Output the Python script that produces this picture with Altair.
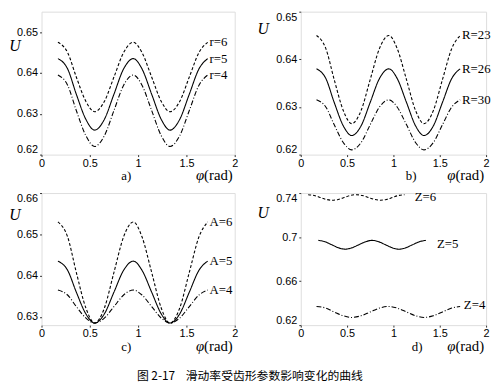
import altair as alt
import pandas as pd

# ---------------- data ----------------
phi_std = [0.17, 0.27, 0.36, 0.46, 0.55, 0.65, 0.75, 0.85, 0.95,
           1.04, 1.14, 1.24, 1.33, 1.43, 1.53, 1.63, 1.72]

# panel a) r = 6, 5, 4
a_r6 = [0.6475, 0.6450, 0.6390, 0.6330, 0.6305, 0.6330, 0.6390, 0.6450, 0.6475,
        0.6450, 0.6390, 0.6330, 0.6305, 0.6330, 0.6390, 0.6450, 0.6475]
a_r5 = [0.6435, 0.6410, 0.6348, 0.6286, 0.6260, 0.6286, 0.6348, 0.6410, 0.6435,
        0.6410, 0.6348, 0.6286, 0.6260, 0.6286, 0.6348, 0.6410, 0.6435]
a_r4 = [0.6395, 0.6370, 0.6308, 0.6246, 0.6220, 0.6246, 0.6308, 0.6370, 0.6395,
        0.6370, 0.6308, 0.6246, 0.6220, 0.6246, 0.6308, 0.6370, 0.6395]

# panel b) R = 23, 26, 30
b_R23 = [0.6450, 0.6423, 0.6358, 0.6292, 0.6265, 0.6292, 0.6358, 0.6423, 0.6450,
         0.6423, 0.6358, 0.6292, 0.6265, 0.6292, 0.6358, 0.6423, 0.6450]
b_R26 = [0.6380, 0.6360, 0.6310, 0.6260, 0.6240, 0.6260, 0.6310, 0.6360, 0.6380,
         0.6360, 0.6310, 0.6260, 0.6240, 0.6260, 0.6310, 0.6360, 0.6380]
b_R30 = [0.6315, 0.6300, 0.6263, 0.6225, 0.6210, 0.6225, 0.6263, 0.6300, 0.6315,
         0.6300, 0.6263, 0.6225, 0.6210, 0.6225, 0.6263, 0.6300, 0.6315]

# panel c) A = 6, 5, 4
c_A6 = [0.6530, 0.6494, 0.6408, 0.6321, 0.6285, 0.6321, 0.6408, 0.6494, 0.6530,
        0.6494, 0.6408, 0.6321, 0.6285, 0.6321, 0.6408, 0.6494, 0.6530]
c_A5 = [0.6435, 0.6413, 0.6360, 0.6307, 0.6285, 0.6307, 0.6360, 0.6413, 0.6435,
        0.6413, 0.6360, 0.6307, 0.6285, 0.6307, 0.6360, 0.6413, 0.6435]
c_A4 = [0.6365, 0.6353, 0.6325, 0.6297, 0.6285, 0.6297, 0.6325, 0.6353, 0.6365,
        0.6353, 0.6325, 0.6297, 0.6285, 0.6297, 0.6325, 0.6353, 0.6365]

# panel d) Z = 6, 5, 4
phi_z6 = [0.08, 0.145, 0.21, 0.275, 0.34, 0.405, 0.47, 0.535, 0.60,
          0.665, 0.73, 0.795, 0.86, 0.925, 0.99, 1.055, 1.12]
d_Z6 = [0.7385, 0.7378, 0.7360, 0.7342, 0.7335, 0.7342, 0.7360, 0.7378, 0.7385,
        0.7378, 0.7360, 0.7342, 0.7335, 0.7342, 0.7360, 0.7378, 0.7385]
phi_z5 = [0.19, 0.26, 0.335, 0.41, 0.48, 0.55, 0.625, 0.70, 0.77,
          0.84, 0.915, 0.99, 1.06, 1.13, 1.205, 1.28, 1.35]
d_Z5 = [0.6970, 0.6958, 0.6930, 0.6902, 0.6890, 0.6902, 0.6930, 0.6958, 0.6970,
        0.6958, 0.6930, 0.6902, 0.6890, 0.6902, 0.6930, 0.6958, 0.6970]
d_Z4 = [0.6370, 0.6355, 0.6320, 0.6285, 0.6270, 0.6285, 0.6320, 0.6355, 0.6370,
        0.6355, 0.6320, 0.6285, 0.6270, 0.6285, 0.6320, 0.6355, 0.6370]

caption = "图 2-17\u00a0\u00a0\u00a0\u00a0滑动率受齿形参数影响变化的曲线"

# ---------------- styling ----------------
SERIF = "Liberation Serif"
SANS = "Liberation Sans"
DASH_TOP = [3, 2]
DASH_MID = [1, 0]
DASH_LOW = [5, 2, 1, 2]


def make_df(series):
    rows = []
    for name, xs, ys in series:
        for x, y in zip(xs, ys):
            rows.append({"phi": x, "U": y, "series": name})
    return pd.DataFrame(rows)


def panel(series, dashes, labels, ydom, yvals, w, h, sub, sub_x, u_pos):
    df = make_df(series)
    names = [s[0] for s in series]
    xenc = alt.X("phi:Q", scale=alt.Scale(domain=[0, 2], nice=False),
                 axis=alt.Axis(values=[0, 0.5, 1, 1.5, 2], format="~g", title=None,
                               grid=False, labelFont=SANS, labelFontSize=11,
                               labelColor="black", tickSize=2, tickColor="#333",
                               domain=False, labelPadding=1, labelFlush=False))
    yenc = alt.Y("U:Q", scale=alt.Scale(domain=ydom, nice=False, zero=False),
                 axis=alt.Axis(values=yvals, format="~g", title=None, grid=False,
                               labelFont=SANS, labelFontSize=11, labelColor="black",
                               tickSize=2, tickColor="#333", domain=False,
                               labelPadding=2, labelFlush=True))
    lines = alt.Chart(df).mark_line(color="black", strokeWidth=1.1,
                                    interpolate="monotone").encode(
        x=xenc, y=yenc,
        strokeDash=alt.StrokeDash("series:N", scale=alt.Scale(domain=names, range=dashes),
                                  legend=None),
        detail="series:N")
    ldf = pd.DataFrame(labels, columns=["phi", "U", "txt"])
    txt = alt.Chart(ldf).mark_text(font=SERIF, fontSize=13, align="left",
                                   baseline="middle", color="black").encode(
        x="phi:Q", y="U:Q", text="txt:N")
    sdf = pd.DataFrame({"t": [sub]})
    subl = alt.Chart(sdf).mark_text(font=SERIF, fontSize=13, baseline="alphabetic",
                                    align="center", color="black").encode(
        text="t:N", x=alt.value(sub_x), y=alt.value(h + 26))
    phi_l = alt.Chart(pd.DataFrame({"t": ["φ"]})).mark_text(
        font=SERIF, fontSize=15, fontStyle="italic", align="right",
        baseline="alphabetic", color="black").encode(
        text="t:N", x=alt.value(w - 31), y=alt.value(h + 26))
    rad_l = alt.Chart(pd.DataFrame({"t": ["(rad)"]})).mark_text(
        font=SERIF, fontSize=15, align="right", baseline="alphabetic",
        color="black").encode(text="t:N", x=alt.value(w - 2), y=alt.value(h + 26))
    u_l = alt.Chart(pd.DataFrame({"t": ["U"]})).mark_text(
        font=SERIF, fontSize=16, fontStyle="italic", align="center",
        baseline="middle", color="black").encode(
        text="t:N", x=alt.value(u_pos[0]), y=alt.value(u_pos[1]))
    return alt.layer(lines, txt, subl, phi_l, rad_l, u_l).properties(width=w, height=h)


pa = panel([("r=6", phi_std, a_r6), ("r=5", phi_std, a_r5), ("r=4", phi_std, a_r4)],
           [DASH_TOP, DASH_MID, DASH_LOW],
           [(1.74, 0.6475, "r=6"), (1.74, 0.6435, "r=5"), (1.74, 0.6395, "r=4")],
           [0.62, 0.655], [0.62, 0.63, 0.64, 0.65], 196, 145, "a)", 86, (-27, 35))
pb = panel([("R=23", phi_std, b_R23), ("R=26", phi_std, b_R26), ("R=30", phi_std, b_R30)],
           [DASH_TOP, DASH_MID, DASH_LOW],
           [(1.74, 0.645, "R=23"), (1.74, 0.638, "R=26"), (1.74, 0.6315, "R=30")],
           [0.62, 0.65], [0.62, 0.625, 0.63, 0.635, 0.64, 0.645, 0.65], 188, 145, "b)", 112,
           (-38, 18))
pc = panel([("A=6", phi_std, c_A6), ("A=5", phi_std, c_A5), ("A=4", phi_std, c_A4)],
           [DASH_TOP, DASH_MID, DASH_LOW],
           [(1.74, 0.653, "A=6"), (1.74, 0.6435, "A=5"), (1.74, 0.6365, "A=4")],
           [0.628, 0.66], [0.63, 0.64, 0.65, 0.66], 196, 134, "c)", 86, (-27, 22))
pd_ = panel([("Z=6", phi_z6, d_Z6), ("Z=5", phi_z5, d_Z5), ("Z=4", phi_std, d_Z4)],
            [DASH_TOP, DASH_MID, DASH_LOW],
            [(1.23, 0.736, "Z=6"), (1.47, 0.694, "Z=5"), (1.76, 0.638, "Z=4")],
            [0.62, 0.74], [0.62, 0.64, 0.66, 0.68, 0.7, 0.72, 0.74], 188, 134, "d)", 118,
            (-38, 20))

chart = alt.concat(pa, pb, pc, pd_, columns=2, spacing={"row": 6, "column": 18}).properties(
    title=alt.TitleParams(caption, orient="bottom", anchor="middle",
                          font="Noto Sans CJK SC", fontSize=12, fontWeight="normal",
                          color="black", offset=17),
    padding={"left": 0, "top": 0, "right": 0, "bottom": 0}
).configure_view(stroke="#444", strokeWidth=1).configure(background="white")

chart.save("out.html", embed_options={"renderer": "svg", "actions": False})
